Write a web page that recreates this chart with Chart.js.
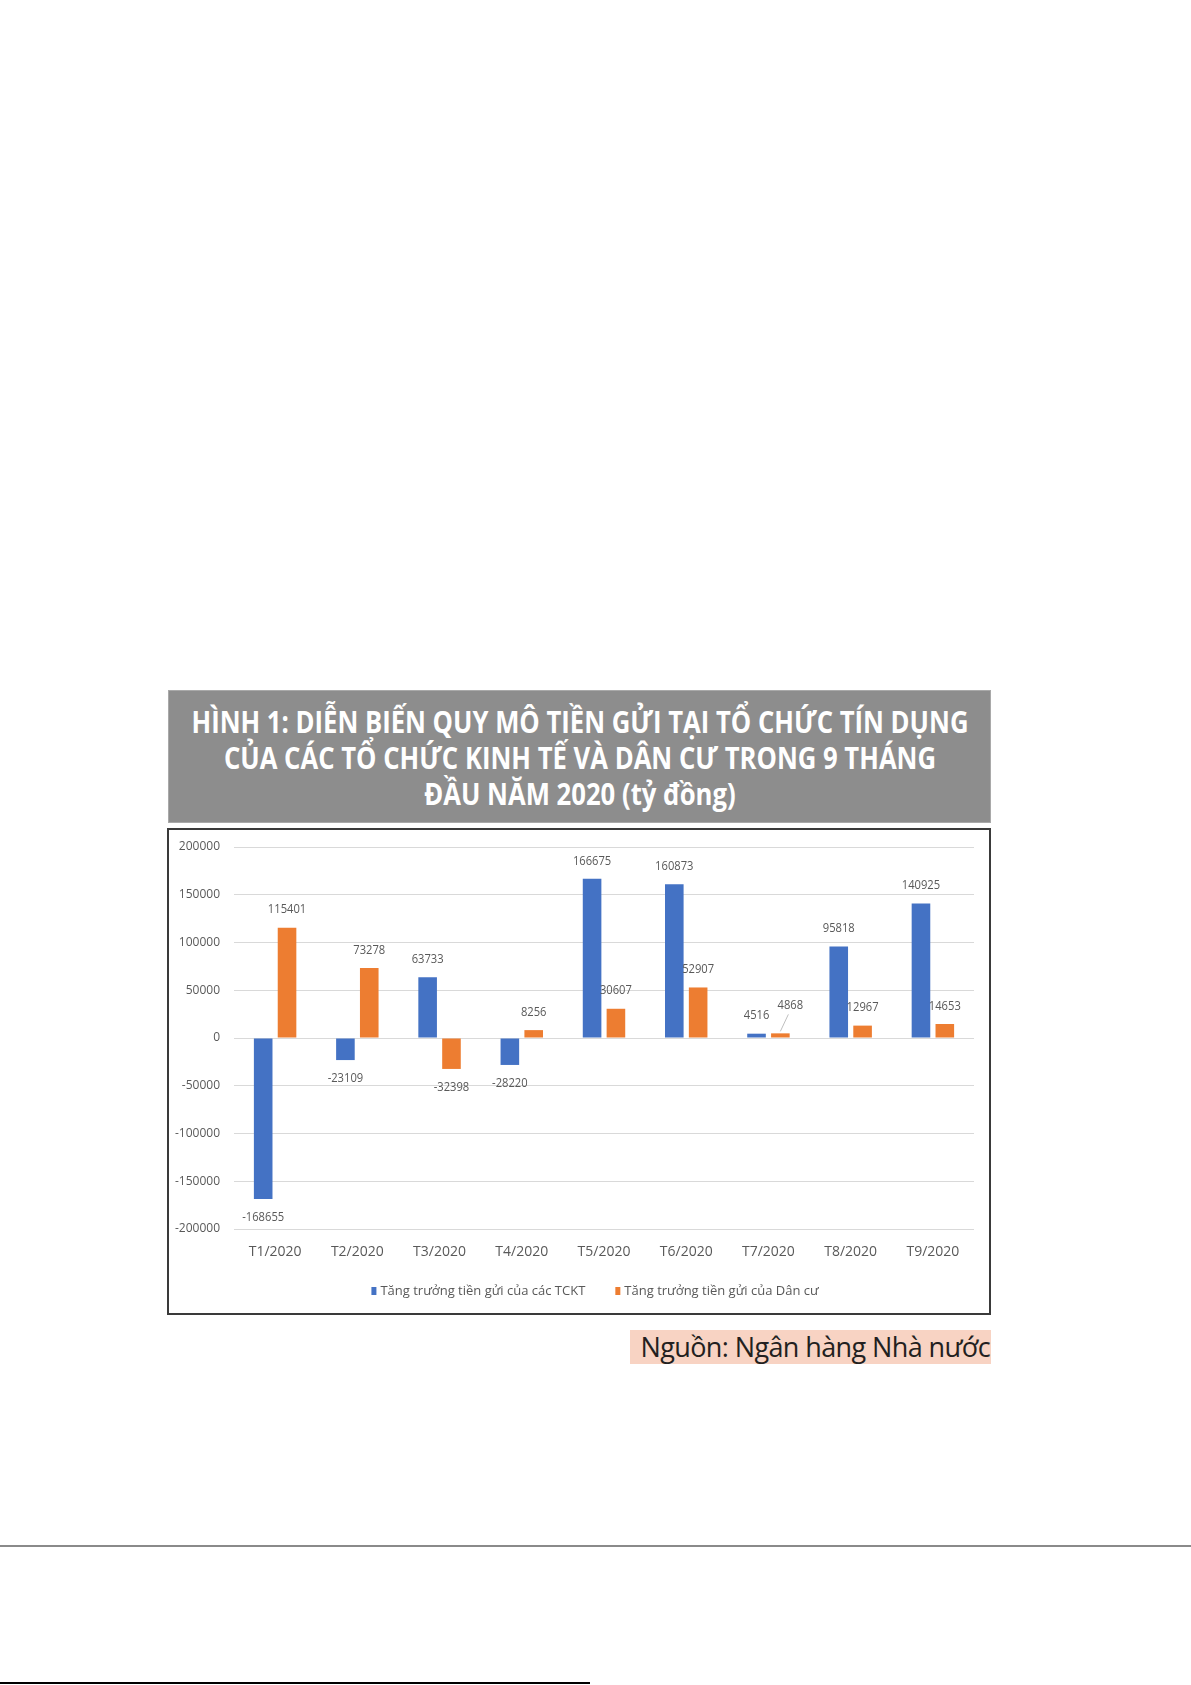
<!DOCTYPE html>
<html>
<head>
<meta charset="utf-8">
<script src="https://cdn.jsdelivr.net/npm/chart.js@4.4.0/dist/chart.umd.min.js"></script>
<style>
  html, body { margin: 0; padding: 0; background: #ffffff; }
  body { width: 1191px; height: 1685px; position: relative; overflow: hidden; }
  #title {
    position: absolute; left: 168px; top: 690px; width: 823px; height: 133px;
    background: #8d8d8d; box-sizing: border-box;
    border: 1px solid #a9a9a9;
  }
  #title .txt {
    position: absolute; left: 50%; top: 12px; display: inline-block;
    color: #ffffff; font-family: "Open Sans", "Noto Sans", sans-serif;
    font-weight: bold; font-size: 31px; line-height: 36px;
    text-align: center; white-space: nowrap; transform-origin: center top;
  }
  #box {
    position: absolute; left: 167px; top: 828px; width: 824px; height: 487px;
    border: 2px solid #3a3a3a; box-sizing: border-box; background: #fff;
  }
  #box canvas { display: block; }
  #source {
    position: absolute; left: 630px; top: 1330px; width: 361px; height: 34px;
    background: #f8d3c3; color: #231f20;
    font-family: "Open Sans", "Noto Sans", sans-serif; font-size: 27px; line-height: 34px;
    text-align: right; letter-spacing: -0.6px; white-space: nowrap; box-sizing: border-box; padding-right: 1px;
  }
  #rule { position: absolute; left: 0; top: 1545px; width: 1191px; height: 2px; background: #8a8a8a; }
  #bottomline { position: absolute; left: 0; top: 1682px; width: 590px; height: 2px; background: #000; }
</style>
</head>
<body>
<div id="title"><div class="txt" data-w="777">HÌNH 1: DIỄN BIẾN QUY MÔ TIỀN GỬI TẠI TỔ CHỨC TÍN DỤNG<br>CỦA CÁC TỔ CHỨC KINH TẾ VÀ DÂN CƯ TRONG 9 THÁNG<br>ĐẦU NĂM 2020 (tỷ đồng)</div></div>
<div id="box"><canvas id="c" width="820" height="483"></canvas></div>
<div id="source">Nguồn: Ngân hàng Nhà nước</div>
<div id="rule"></div>
<div id="bottomline"></div>
<script>
const categories = ["T1/2020","T2/2020","T3/2020","T4/2020","T5/2020","T6/2020","T7/2020","T8/2020","T9/2020"];
const seriesNames = ["Tăng trưởng tiền gửi của các TCKT", "Tăng trưởng tiền gửi của Dân cư"];
const tcktValues = [-168655, -23109, 63733, -28220, 166675, 160873, 4516, 95818, 140925];
const danCuValues = [115401, 73278, -32398, 8256, 30607, 52907, 4868, 12967, 14653];
const yTicks = [200000, 150000, 100000, 50000, 0, -50000, -100000, -150000, -200000];
const seriesColors = ['#4472c4', '#ed7d31'];

// condense the title block to the reference width
(function () {
  const t = document.querySelector('#title .txt');
  const w = t.getBoundingClientRect().width;
  const k = parseFloat(t.dataset.w) / w;
  t.style.transform = 'translateX(-50%) scaleX(' + k + ')';
})();

const FONT = '"Open Sans", "Noto Sans", sans-serif';

const labelPlugin = {
  id: 'barLabels',
  afterDatasetsDraw(chart) {
    const ctx = chart.ctx;
    ctx.save();
    ctx.font = '13px ' + FONT;
    ctx.fillStyle = '#595959';
    ctx.textAlign = 'center';
    ctx.textBaseline = 'middle';
    const drawText = (t, x, y) => {
      ctx.save();
      ctx.translate(x, y);
      ctx.scale(0.86, 1);
      ctx.fillText(t, 0, 0);
      ctx.restore();
    };
    chart.data.datasets.forEach((ds, di) => {
      const meta = chart.getDatasetMeta(di);
      meta.data.forEach((bar, i) => {
        const v = ds.data[i];
        let y = v >= 0 ? bar.y - 18 : bar.y + 18;
        let x = bar.x;
        if (di === 1 && i === 6) {
          const ly = bar.y - 28;
          ctx.strokeStyle = '#bfbfbf';
          ctx.lineWidth = 1;
          ctx.beginPath();
          ctx.moveTo(bar.x, bar.y - 2);
          ctx.lineTo(bar.x + 8, ly + 9);
          ctx.stroke();
          x = bar.x + 10; y = ly;
        }
        drawText(String(v), x, y);
      });
    });
    ctx.restore();
  }
};

const legendPlugin = {
  id: 'customLegend',
  afterDraw(chart) {
    const ctx = chart.ctx;
    ctx.save();
    ctx.font = '13px ' + FONT;
    ctx.textBaseline = 'middle';
    ctx.textAlign = 'left';
    const gap = 30, mark = 5, markGap = 4;
    const widths = seriesNames.map(n => ctx.measureText(n).width);
    const total = widths.reduce((a, b) => a + b, 0) + 2 * (mark + markGap) + gap;
    let x = 426 - total / 2;
    const y = 461;
    seriesNames.forEach((n, i) => {
      ctx.fillStyle = seriesColors[i];
      ctx.fillRect(x, y - 4, mark, 8);
      x += mark + markGap;
      ctx.fillStyle = '#595959';
      ctx.fillText(n, x, y);
      x += widths[i] + gap;
    });
    ctx.restore();
  }
};

new Chart(document.getElementById('c'), {
  type: 'bar',
  data: {
    labels: categories,
    datasets: [
      { label: seriesNames[0], data: tcktValues, backgroundColor: seriesColors[0], categoryPercentage: 0.58, barPercentage: 0.78 },
      { label: seriesNames[1], data: danCuValues, backgroundColor: seriesColors[1], categoryPercentage: 0.58, barPercentage: 0.78 }
    ]
  },
  options: {
    responsive: false,
    animation: false,
    devicePixelRatio: 1,
    layout: { padding: { left: 0, right: 15, top: 17, bottom: 44 } },
    plugins: {
      title: { display: false },
      tooltip: { enabled: false },
      legend: { display: false }
    },
    scales: {
      x: {
        grid: { display: false, drawTicks: false },
        border: { display: false },
        ticks: { font: { family: FONT, size: 14 }, color: '#595959', padding: 15 },
        afterFit(s) { s.height = 40; }
      },
      y: {
        min: -200000, max: 200000,
        afterBuildTicks(s) { s.ticks = yTicks.map(v => ({ value: v })); },
        grid: { color: '#d9d9d9', drawTicks: false },
        border: { display: false },
        ticks: { font: { family: FONT, size: 12 }, color: '#595959', padding: 14, callback: v => String(v) },
        afterFit(s) { s.width = 65; s.paddingTop = 0; s.paddingBottom = 0; }
      }
    }
  },
  plugins: [labelPlugin, legendPlugin]
});
</script>
</body>
</html>
